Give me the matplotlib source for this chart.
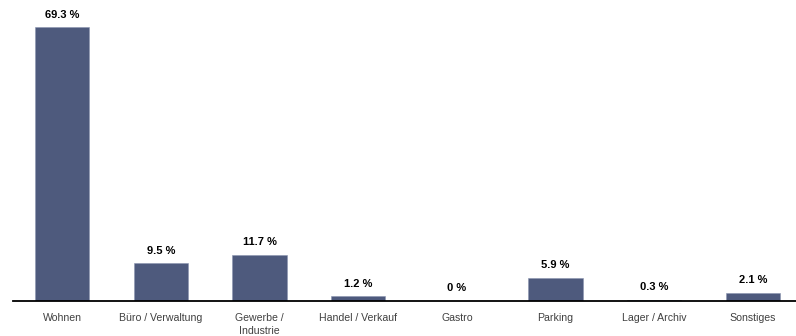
import matplotlib.pyplot as plt
import numpy as np

plt.rcParams['font.family'] = ['Liberation Sans', 'DejaVu Sans']

categories = ['Wohnen', 'Büro / Verwaltung', 'Gewerbe /\nIndustrie', 'Handel / Verkauf',
              'Gastro', 'Parking', 'Lager / Archiv', 'Sonstiges']
shares = [69.3, 9.5, 11.7, 1.2, 0, 5.9, 0.3, 2.1]
value_labels = ['69.3 %', '9.5 %', '11.7 %', '1.2 %', '0 %', '5.9 %', '0.3 %', '2.1 %']

bar_color = '#4e5a7d'

fig = plt.figure(figsize=(7.96, 3.36), dpi=100)
ax = fig.add_axes([13 / 796, 35 / 336, 783 / 796, 301 / 336])

x = np.arange(len(categories))
ax.bar(x, shares, width=0.55, color=bar_color, edgecolor='#8a94b0', linewidth=0.4)

for xi, v, lab in zip(x, shares, value_labels):
    ax.annotate(lab, (xi, v), xytext=(0, 5.5), textcoords='offset points',
                ha='center', va='bottom', fontsize=8, fontweight='bold', color='black')

ax.set_xlim(-0.5, 7.5 - 6 / 98.6)
ax.set_ylim(0, 76.2)
ax.set_xticks(x)
ax.set_xticklabels(categories, fontsize=7.6, color='#404040', linespacing=1.4)
ax.tick_params(axis='x', length=0, pad=8.5)
ax.set_yticks([])
for side in ['top', 'right', 'left']:
    ax.spines[side].set_visible(False)
ax.spines['bottom'].set_linewidth(1.3)
ax.spines['bottom'].set_color('black')
ax.patch.set_alpha(0)

fig.savefig('out.png', dpi=100)
